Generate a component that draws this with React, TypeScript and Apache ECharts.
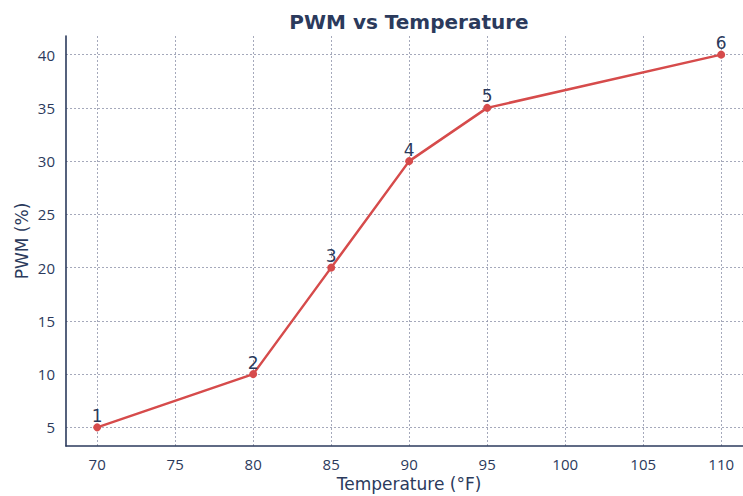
import React, { useEffect, useRef } from "react";
import * as echarts from "echarts";

const temperatures = [70, 80, 85, 90, 95, 110];
const pwmValues = [5, 10, 20, 30, 35, 40];
const pointLabels = ["1", "2", "3", "4", "5", "6"];
const xTicks = [70, 75, 80, 85, 90, 95, 100, 105, 110];
const yTicks = [5, 10, 15, 20, 25, 30, 35, 40];

const NAVY = "#2b3a5c";
const RED = "#d64b4b";
const GRID = "#8e93aa";

export default function App() {
  const ref = useRef<HTMLDivElement>(null);
  useEffect(() => {
    if (!ref.current) return;
    const chart = echarts.init(ref.current, undefined, { renderer: "svg" });
    const font = "DejaVu Sans";
    const tickFont = "Open Sans";
    chart.setOption({
      animation: false,
      backgroundColor: "#ffffff",
      textStyle: { fontFamily: font },
      graphic: [
        {
          type: "text",
          x: 409,
          y: 22,
          style: {
            text: "PWM vs Temperature",
            fontFamily: font,
            fontSize: 20,
            fontWeight: "bold",
            fill: NAVY,
            textAlign: "center",
            textVerticalAlign: "middle",
          },
        },
        {
          type: "text",
          x: 409,
          y: 484,
          style: {
            text: "Temperature (°F)",
            fontFamily: font,
            fontSize: 17,
            fill: NAVY,
            textAlign: "center",
            textVerticalAlign: "middle",
          },
        },
        {
          type: "text",
          x: 22,
          y: 241,
          rotation: Math.PI / 2,
          style: {
            text: "PWM (%)",
            fontFamily: font,
            fontSize: 17,
            fill: NAVY,
            textAlign: "center",
            textVerticalAlign: "middle",
          },
        },
      ],
      grid: { left: 66, right: 0, top: 36, bottom: 50, containLabel: false },
      xAxis: {
        type: "value",
        min: 68,
        max: 111.4,
        axisLine: { show: true, onZero: false, lineStyle: { color: NAVY, width: 1.6 } },
        axisTick: { show: false, customValues: xTicks },
        axisLabel: {
          customValues: xTicks,
          color: NAVY,
          fontSize: 15,
          margin: 10,
          fontFamily: tickFont,
        },
        splitLine: {
          show: true,
          lineStyle: { color: GRID, width: 0.8, type: [2, 2] },
        },
      },
      yAxis: {
        type: "value",
        min: 3.25,
        max: 41.75,
        axisLine: { show: true, onZero: false, lineStyle: { color: NAVY, width: 1.6 } },
        axisTick: { show: false, customValues: yTicks },
        axisLabel: {
          customValues: yTicks,
          color: NAVY,
          fontSize: 15,
          margin: 11,
          fontFamily: tickFont,
        },
        splitLine: {
          show: true,
          lineStyle: { color: GRID, width: 0.8, type: [2, 2] },
        },
      },
      series: [
        {
          type: "line",
          data: temperatures.map((t, i) => [t, pwmValues[i]]),
          symbol: "circle",
          symbolSize: 8,
          lineStyle: { color: RED, width: 2.5 },
          itemStyle: { color: RED },
          z: 2,
          label: {
            show: true,
            position: "top",
            distance: -1,
            formatter: (p: any) => pointLabels[p.dataIndex],
            color: NAVY,
            fontSize: 17,
            fontFamily: font,
          },
        },
      ],
    });
    return () => chart.dispose();
  }, []);
  return (
    <div
      ref={ref}
      style={{ position: "fixed", left: 0, top: 0, width: 743, height: 496 }}
    />
  );
}
